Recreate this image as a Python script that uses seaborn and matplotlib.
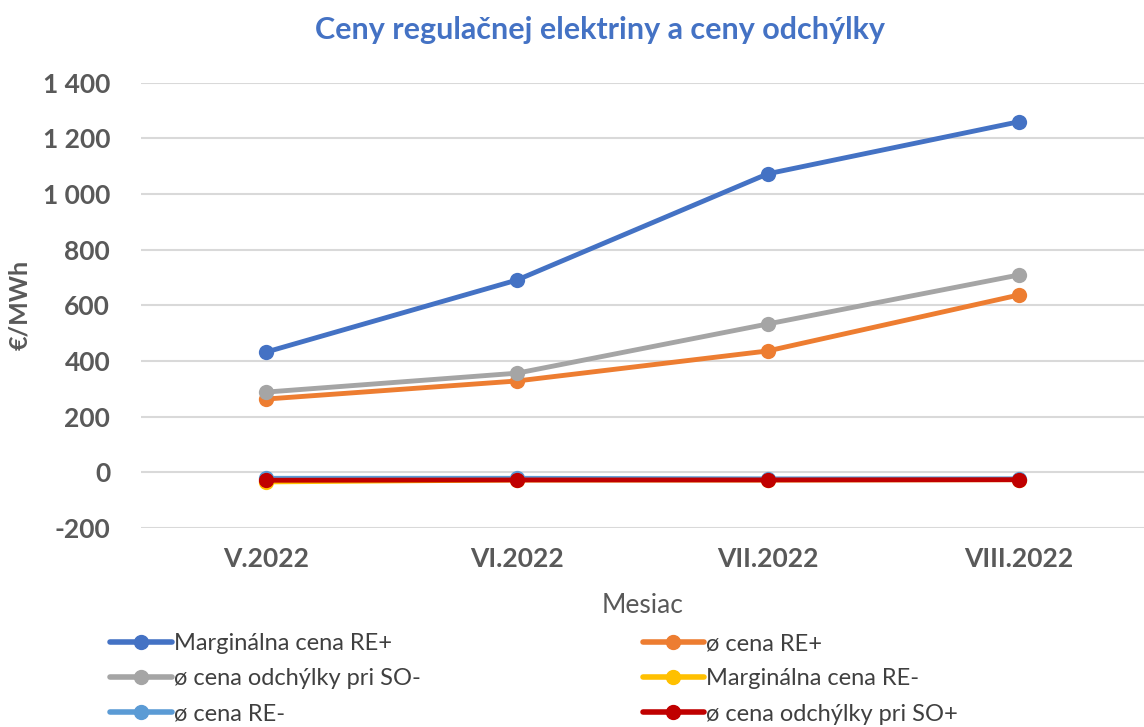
import pandas as pd
import numpy as np
import seaborn as sns
from matplotlib import pyplot as plt

months = ["V.2022", "VI.2022", "VII.2022", "VIII.2022"]

marg_re_plus = [432, 691, 1073, 1260]
avg_re_plus = [263, 328, 436, 637]
avg_odch_so_minus = [288, 356, 533, 709]
marg_re_minus = [-35, -28, -28, -27]
avg_re_minus = [-22, -22, -24, -24]
avg_odch_so_plus = [-29, -28, -28, -27]

series_names = ["Marginálna cena RE+", "ø cena RE+", "ø cena odchýlky pri SO-",
                "Marginálna cena RE-", "ø cena RE-", "ø cena odchýlky pri SO+"]
series_values = [marg_re_plus, avg_re_plus, avg_odch_so_minus,
                 marg_re_minus, avg_re_minus, avg_odch_so_plus]
colors = ["#4472C4", "#ED7D31", "#A5A5A5", "#FFC000", "#5B9BD5", "#C00000"]

rows = []
for name, vals in zip(series_names, series_values):
    for m, v in zip(months, vals):
        rows.append({"Mesiac": m, "value": v, "series": name})
df = pd.DataFrame(rows)

sns.set_style("white")
plt.rcParams['font.family'] = ['Lato', 'DejaVu Sans']

fig = plt.figure(figsize=(11.44, 7.27), dpi=100)
ax = fig.add_axes([0.123, 0.274, 0.877, 0.612])

sns.lineplot(data=df, x="Mesiac", y="value", hue="series", hue_order=series_names,
             palette=colors, marker="o", markersize=11, markeredgewidth=0,
             linewidth=3.5, sort=False, ax=ax, legend=False)

ax.set_xlim(-0.5, 3.5)
ax.set_ylim(-200, 1400)
ax.set_yticks(np.arange(-200, 1401, 200))
ax.set_yticklabels([f"{v:,}".replace(",", " ") for v in range(-200, 1401, 200)])
ax.yaxis.grid(True, color="#D9D9D9", linewidth=1.5)
ax.set_axisbelow(True)
for s in ax.spines.values():
    s.set_visible(False)
ax.tick_params(axis="y", length=0, labelsize=19, labelcolor="#595959", pad=22)
ax.tick_params(axis="x", length=0, labelsize=19, labelcolor="#595959", pad=14)
for lbl in ax.get_xticklabels() + ax.get_yticklabels():
    lbl.set_fontweight("bold")

ax.set_xlabel("Mesiac", fontsize=19, color="#595959", labelpad=16)
ax.set_ylabel("")
fig.text(20 / 1144, 1 - 305 / 727, "€/MWh", fontsize=18, color="#595959", fontweight="bold",
         rotation=90, ha="center", va="center")
fig.text(600 / 1144, 1 - 30 / 727, "Ceny regulačnej elektriny a ceny odchýlky", fontsize=22,
         color="#4472C4", fontweight="bold", ha="center", va="center")

# legend filled by columns, so reorder to read row-wise
handles = [plt.Line2D([], [], color=c, marker="o", markersize=10, linewidth=4) for c in colors]
order = [0, 2, 4, 1, 3, 5]
fig.legend([handles[i] for i in order], [series_names[i] for i in order], ncol=2,
           loc="upper left", bbox_to_anchor=(0.088, 0.142), frameon=False,
           fontsize=17, labelcolor="#404040", handlelength=2.6, handletextpad=0.1,
           columnspacing=9.4, labelspacing=0.6, borderaxespad=0)

fig.savefig("out.png", dpi=100)
